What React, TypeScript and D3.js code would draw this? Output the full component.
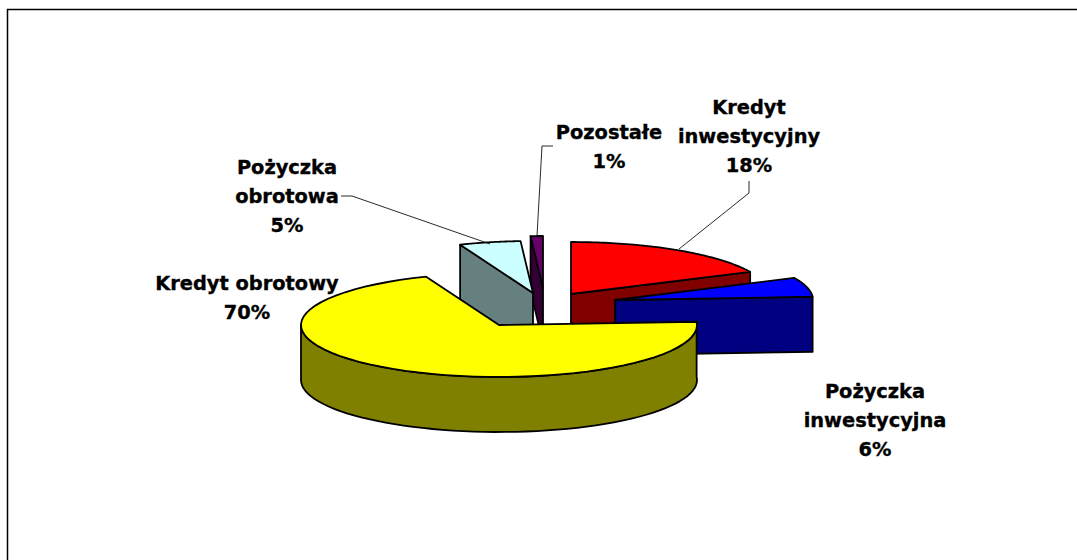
import React from "react";
import * as d3 from "d3";

const categories = ["Kredyt inwestycyjny", "Pożyczka inwestycyjna", "Kredyt obrotowy", "Pożyczka obrotowa", "Pozostałe"];
const shares = [18, 6, 70, 5, 1];
const topColors = ["#ff0000", "#0000ff", "#ffff00", "#ccffff", "#660066"];
const wallColors = ["#800000", "#000080", "#808000", "#668080", "#330033"];
const labelLines = [
  ["Kredyt", "inwestycyjny", "18%"],
  ["Pożyczka", "inwestycyjna", "6%"],
  ["Kredyt obrotowy", "70%"],
  ["Pożyczka", "obrotowa", "5%"],
  ["Pozostałe", "1%"],
];

const W = 1077, H = 560;
const RX = 198, RY = 52, DEPTH = 55;
// Exploded slice layout
const centers: [number, number][] = [[571, 294], [615, 300], [499, 325], [533, 293], [543, 288]];
const labelPos: [number, number][] = [[749, 114], [875, 398], [247, 290], [287, 174], [609, 139]];
const leaders: [number, number][][] = [
  [[679, 249], [749, 193], [749, 181]],
  [],
  [],
  [[341, 196], [352, 196], [490, 244]],
  [[553, 146], [542, 146], [537, 236]],
];
const drawOrder = [4, 3, 0, 1, 2];

const pie = d3.pie<number>().sort(null).value((d) => d);
const arcs = pie(shares);
const line = d3.line<[number, number]>();
const steps = (a: number, b: number) => d3.range(0, 61).map((i) => a + ((b - a) * i) / 60);

export default function App() {
  const pt = (i: number, a: number, dy = 0): [number, number] => [
    centers[i][0] + RX * Math.sin(a),
    centers[i][1] - RY * Math.cos(a) + dy,
  ];
  const rim = (i: number, a: number, b: number, dy = 0) => steps(a, b).map((t) => pt(i, t, dy));

  const wallPath = (i: number) => {
    const { startAngle: s, endAngle: e } = arcs[i];
    const c = centers[i];
    if (i === 2) {
      const end = Math.PI * 1.5;
      return line([...rim(i, s, end), ...rim(i, s, end, DEPTH).reverse()]) + "Z";
    }
    // The cut face that looks towards the viewer
    const a = i === 3 || i === 4 ? s : e;
    return line([c, pt(i, a), pt(i, a, DEPTH), [c[0], c[1] + DEPTH]]) + "Z";
  };
  const topPath = (i: number) => {
    const { startAngle: s, endAngle: e } = arcs[i];
    return line([centers[i], ...rim(i, s, e)]) + "Z";
  };

  return (
    <svg width={W} height={H} style={{ position: "absolute", left: 0, top: 0 }}>
      <rect width={W} height={H} fill="#fff" />
      <path d={`M7.5 ${H}V9.5H${W}`} fill="none" stroke="#000" strokeWidth={1.5} />
      {drawOrder.map((i) => (
        <g key={categories[i]} stroke="#000" strokeWidth={1.8} strokeLinejoin="round">
          <path d={wallPath(i)} fill={wallColors[i]} />
          <path d={topPath(i)} fill={topColors[i]} />
        </g>
      ))}
      {leaders.map((l, i) =>
        l.length ? <path key={i} d={line(l) ?? ""} fill="none" stroke="#111" strokeWidth={0.9} /> : null
      )}
      {labelLines.map((lines, i) => (
        <text
          key={i}
          textAnchor="middle"
          fontFamily="'DejaVu Sans'"
          fontWeight="bold"
          fontSize={19.4}
          fill="#000"
          stroke="#000"
          strokeWidth={0.35}
        >
          {lines.map((t, j) => (
            <tspan key={j} x={labelPos[i][0]} y={labelPos[i][1] + j * 29}>
              {t}
            </tspan>
          ))}
        </text>
      ))}
    </svg>
  );
}
